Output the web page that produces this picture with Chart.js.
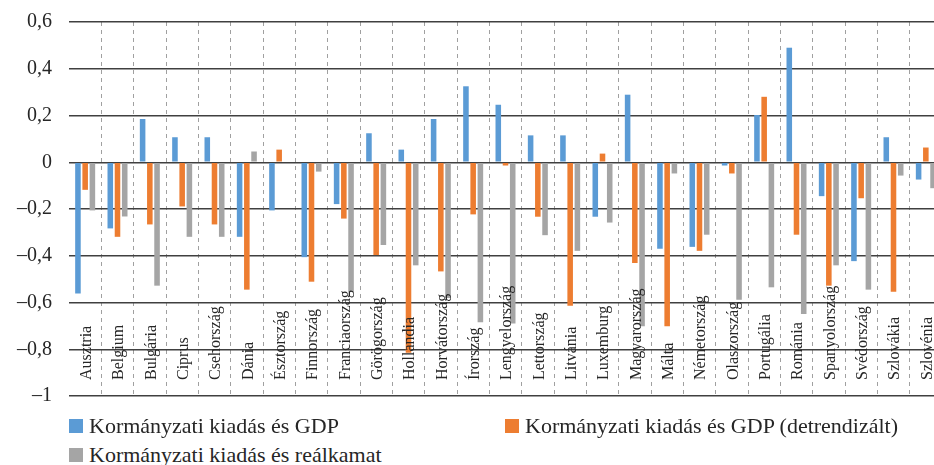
<!DOCTYPE html>
<html>
<head>
<meta charset="utf-8">
<script src="https://cdn.jsdelivr.net/npm/chart.js@4"></script>
<style>
  html, body { margin: 0; padding: 0; background: #fff; overflow: hidden; }
  #wrap { position: absolute; left: 0; top: -7px; width: 960px; height: 432px; }
  .leg { position: absolute; display: flex; align-items: center; font-family: "Liberation Serif", "Times New Roman", serif; font-size: 22px; color: #262626; white-space: nowrap; }
  .leg span { display: inline-block; width: 14px; height: 14px; margin-right: 6px; }
</style>
</head>
<body>
<div id="wrap"><canvas id="chart-grafico"></canvas></div>
<div class="leg" style="left:69px; top:413px;"><span style="background:#5b9bd5"></span>Kormányzati kiadás és GDP</div>
<div class="leg" style="left:505px; top:413px;"><span style="background:#ed7d31"></span>Kormányzati kiadás és GDP (detrendizált)</div>
<div class="leg" style="left:69px; top:442px;"><span style="background:#a5a5a5"></span>Kormányzati kiadás és reálkamat</div>
<script>
const orszagok = ['Ausztria', 'Belgium', 'Bulgária', 'Ciprus', 'Csehország', 'Dánia', 'Észtország', 'Finnország',
    'Franciaország', 'Görögország', 'Hollandia', 'Horvátország', 'Írország', 'Lengyelország', 'Lettország', 'Litvánia',
    'Luxemburg', 'Magyarország', 'Málta', 'Németország', 'Olaszország', 'Portugália', 'Románia', 'Spanyolország',
    'Svédország', 'Szlovákia', 'Szlovénia'];

const kiadasGdp = [-0.562, -0.283, 0.185, 0.107, 0.107, -0.319, -0.206, -0.406, -0.179, 0.124, 0.054, 0.185, 0.325,
    0.246, 0.115, 0.115, -0.233, 0.289, -0.370, -0.362, -0.014, 0.202, 0.490, -0.145, -0.423, 0.107, -0.074];

const kiadasGdpDetrend = [-0.118, -0.319, -0.266, -0.189, -0.266, -0.545, 0.054, -0.511, -0.241, -0.397, -0.815, -0.467,
    -0.223, -0.014, -0.233, -0.614, 0.037, -0.431, -0.702, -0.379, -0.048, 0.280, -0.310, -0.528, -0.154, -0.554, 0.063];

const kiadasRealkamat = [-0.206, -0.232, -0.528, -0.319, -0.319, 0.046, 0, -0.040, -0.555, -0.354, -0.441, -0.581,
    -0.685, -0.690, -0.312, -0.379, -0.258, -0.702, -0.048, -0.310, -0.588, -0.535, -0.649, -0.441, -0.545, -0.057, -0.111];

const yMin = -1, yMax = 0.6, yStep = 0.2;
const betu = '"Liberation Serif", "Times New Roman", serif';

// kategoria feliratok a rajzteruleten belul, alulrol felfele irva
const feliratok = {
    id: 'feliratok',
    afterDatasetsDraw(chart) {
        const c = chart.ctx;
        const x = chart.scales.x;
        const alap = chart.scales.y.getPixelForValue(yMin) - 16;
        c.save();
        c.font = '16px ' + betu;
        c.fillStyle = '#262626';
        c.textAlign = 'left';
        c.textBaseline = 'middle';
        orszagok.forEach((nev, i) => {
            c.save();
            c.translate(x.getPixelForValue(i) + 1.5, alap);
            c.rotate(-Math.PI / 2);
            c.fillText(nev, 0, 0);
            c.restore();
        });
        c.restore();
    }
};

const ctx = document.getElementById('chart-grafico');
new Chart(ctx, {
    type: 'bar',
    data: {
        labels: orszagok,
        datasets: [
            { label: 'Kormányzati kiadás és GDP', data: kiadasGdp, backgroundColor: '#5b9bd5' },
            { label: 'Kormányzati kiadás és GDP (detrendizált)', data: kiadasGdpDetrend, backgroundColor: '#ed7d31' },
            { label: 'Kormányzati kiadás és reálkamat', data: kiadasRealkamat, backgroundColor: '#a5a5a5' }
        ]
    },
    options: {
        responsive: true,
        maintainAspectRatio: false,
        animation: false,
        datasets: { bar: { categoryPercentage: 0.67, barPercentage: 0.77 } },
        layout: { padding: { top: 15, bottom: 4, left: 0, right: 18 } },
        plugins: { legend: { display: false }, tooltip: { enabled: false } },
        scales: {
            x: {
                ticks: { display: false },
                border: { display: false, dash: [4, 4] },
                grid: {
                    offset: true,
                    drawTicks: false,
                    color: c => c.index === 0 ? 'rgba(0,0,0,0)' : '#a0a0a0',
                    lineWidth: 1
                },
                afterFit: s => { s.height = 0; }
            },
            y: {
                min: yMin,
                max: yMax,
                border: { display: false },
                grid: { color: '#404040', lineWidth: 1.5, drawTicks: false },
                ticks: {
                    stepSize: yStep,
                    padding: 17,
                    color: '#262626',
                    font: { family: betu, size: 20 },
                    callback: v => {
                        const r = Math.round(v * 10) / 10;
                        return String(r).replace('.', ',').replace('-', '–');
                    }
                },
                afterFit: s => { s.width = 69; }
            }
        }
    },
    plugins: [feliratok]
});
</script>
</body>
</html>
